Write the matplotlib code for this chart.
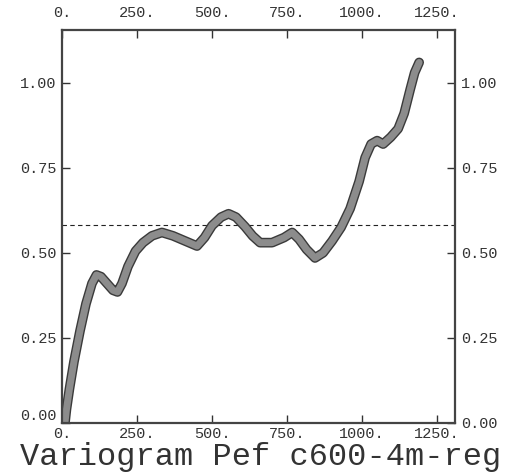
import matplotlib.pyplot as plt
import matplotlib.patheffects as pe
import matplotlib.transforms as mtransforms

# lag distance and variogram values
lag = [10, 15, 25, 40, 60, 80, 100, 115, 130, 150, 170, 185, 200, 220, 245, 270,
       300, 333, 370, 410, 450, 475, 500, 530, 555, 580, 610, 635, 660, 700, 740,
       767, 790, 815, 843, 870, 900, 930, 960, 990, 1010, 1030, 1050, 1070, 1095,
       1120, 1140, 1160, 1175, 1190]
gamma = [0.0, 0.04, 0.1, 0.18, 0.27, 0.35, 0.41, 0.435, 0.43, 0.41, 0.39, 0.385,
         0.41, 0.46, 0.505, 0.53, 0.55, 0.56, 0.55, 0.535, 0.52, 0.545, 0.58, 0.605,
         0.615, 0.605, 0.577, 0.55, 0.53, 0.53, 0.545, 0.56, 0.54, 0.51, 0.485, 0.5,
         0.535, 0.575, 0.63, 0.71, 0.78, 0.82, 0.83, 0.82, 0.84, 0.865, 0.91, 0.98,
         1.03, 1.06]
sill = 0.582

xticks = [0, 250, 500, 750, 1000, 1250]
xlabels = ["0.", "250.", "500.", "750.", "1000.", "1250."]
yticks = [0.0, 0.25, 0.5, 0.75, 1.0]
ylabels = ["0.00", "0.25", "0.50", "0.75", "1.00"]

plt.rcParams['font.family'] = ['Liberation Mono', 'DejaVu Sans Mono']

fig = plt.figure(figsize=(5.12, 4.73), dpi=100)
ax = fig.add_axes([0.121, 0.106, 0.768, 0.831])

# sill line + experimental variogram
ax.axhline(sill, color='#222222', lw=0.8, ls=(0, (4, 3)))
ax.plot(lag, gamma, color='#8c8c8c', lw=5, solid_capstyle='round',
        solid_joinstyle='round',
        path_effects=[pe.Stroke(linewidth=7, foreground='#3a3a3a'), pe.Normal()])

ax.set_xlim(0, 1310)
ax.set_ylim(0, 1.156)
ax.set_xticks(xticks)
ax.set_xticklabels(xlabels)
ax.set_yticks(yticks)
ax.set_yticklabels(ylabels)

ax.tick_params(axis='both', direction='in', length=6, width=1, color='#333333',
               labelsize=11, top=True, right=True, labeltop=True, labelright=True,
               labelcolor='#333333')
ax.tick_params(axis='x', pad=3)
ax.tick_params(axis='y', pad=4)

# top labels sit a bit higher in the scan
off_top = mtransforms.ScaledTranslation(0, 4 / 72, fig.dpi_scale_trans)
for t in ax.xaxis.get_major_ticks():
    t.label2.set_transform(t.label2.get_transform() + off_top)

# lift the left 0.00 so it clears the bottom 0.
off_up = mtransforms.ScaledTranslation(0, 6 / 72, fig.dpi_scale_trans)
t0 = ax.yaxis.get_major_ticks()[0]
t0.label1.set_transform(t0.label1.get_transform() + off_up)

for side in ['left', 'right', 'top', 'bottom']:
    ax.spines[side].set_linewidth(1.6)
    ax.spines[side].set_color('#444444')

fig.text(0.51, 0.034, "Variogram Pef c600-4m-reg", ha='center', va='center',
         fontsize=23, color='#333333')

fig.savefig("out.png", dpi=100)
